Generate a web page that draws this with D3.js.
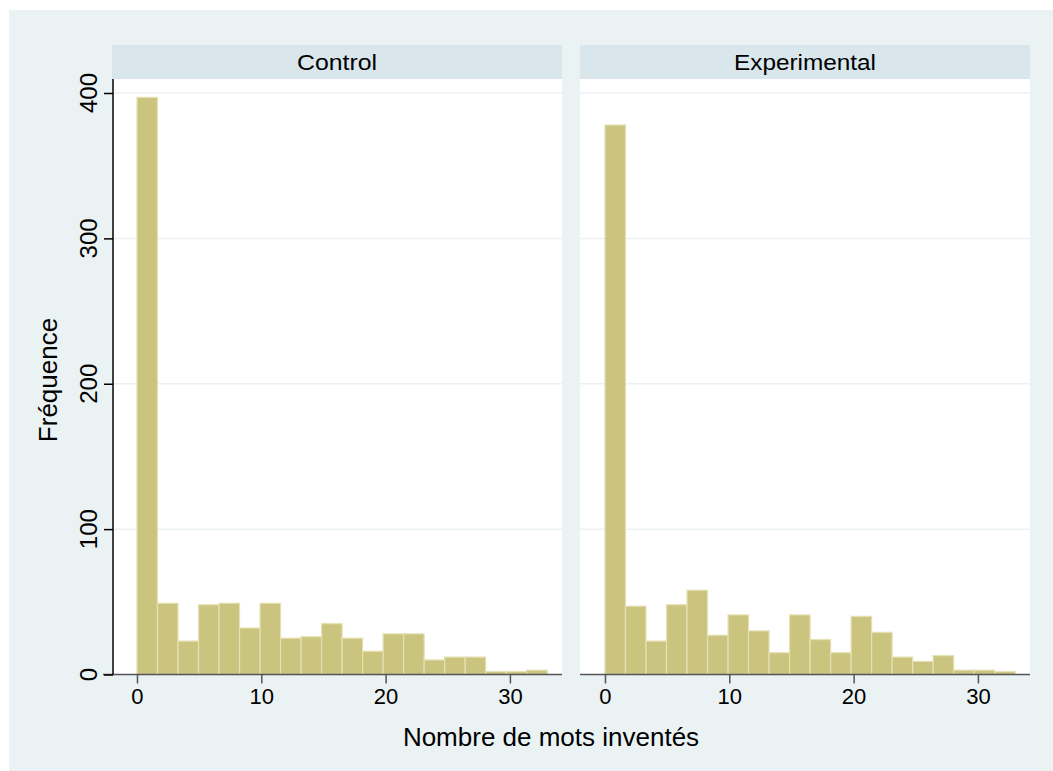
<!DOCTYPE html>
<html>
<head>
<meta charset="utf-8">
<script src="https://cdn.jsdelivr.net/npm/d3@7"></script>
<style>
  body { margin: 0; background: #fff; }
  text { font-family: "Liberation Sans", Arial, sans-serif; fill: #000; }
</style>
</head>
<body>
<svg id="chart"></svg>
<script>
// values: 20 bins of width 1.65, from 0 to 33
const groups = ['Control', 'Experimental'];
const binStarts = [0, 1.65, 3.3, 4.95, 6.6, 8.25, 9.9, 11.55, 13.2, 14.85,
                   16.5, 18.15, 19.8, 21.45, 23.1, 24.75, 26.4, 28.05, 29.7, 31.35];
const binWidth = 1.65;
const controlCounts = [397, 49, 23, 48, 49, 32, 49, 25, 26, 35, 25, 16, 28, 28, 10, 12, 12, 2, 2, 3];
const experimentalCounts = [378, 47, 23, 48, 58, 27, 41, 30, 15, 41, 24, 15, 40, 29, 12, 9, 13, 3, 3, 2];
const xTicks = [0, 10, 20, 30];
const yTicks = [0, 100, 200, 300, 400];
const headerWidths = [80, 142];

let chart = {
    width: 1053,
    height: 771,
    panelLeft: [112, 580],
    panelWidth: 450,
    headerTop: 45,
    plotTop: 79,
    plotBottom: 674.5,
    bg: '#eaf2f3',
    yScale: null,

    drawBackground: (svg) => {
        svg.append('rect')
            .attr('x', 9).attr('y', 10)
            .attr('width', chart.width - 9).attr('height', chart.height - 10)
            .attr('fill', chart.bg);
    },

    drawPanel: (svg, p) => {
        let left = chart.panelLeft[p];
        let counts = p === 0 ? controlCounts : experimentalCounts;
        let g = svg.append('g');

        // header strip
        g.append('rect')
            .attr('x', left).attr('y', chart.headerTop)
            .attr('width', chart.panelWidth).attr('height', chart.plotTop - chart.headerTop)
            .attr('fill', '#d9e6eb');
        g.append('text')
            .attr('x', left + chart.panelWidth / 2)
            .attr('y', 69.5)
            .attr('text-anchor', 'middle')
            .attr('font-size', 22)
            .attr('textLength', headerWidths[p])
            .attr('lengthAdjust', 'spacingAndGlyphs')
            .text(groups[p]);

        // plot area
        g.append('rect')
            .attr('x', left).attr('y', chart.plotTop)
            .attr('width', chart.panelWidth).attr('height', chart.plotBottom - chart.plotTop)
            .attr('fill', '#fff');

        let xScale = d3.scaleLinear()
            .domain([-2.01, 34.19])
            .range([left, left + chart.panelWidth]);

        // grid lines
        g.selectAll('.grid')
            .data(yTicks.filter(d => d > 0))
            .join('line')
            .attr('x1', left).attr('x2', left + chart.panelWidth)
            .attr('y1', d => chart.yScale(d)).attr('y2', d => chart.yScale(d))
            .attr('stroke', chart.bg)
            .attr('stroke-width', 1.5);

        // bars
        g.selectAll('.bar')
            .data(counts)
            .join('rect')
            .attr('x', (d, i) => xScale(binStarts[i]))
            .attr('y', d => chart.yScale(d))
            .attr('width', (d, i) => xScale(binStarts[i] + binWidth) - xScale(binStarts[i]))
            .attr('height', d => chart.yScale(0) - chart.yScale(d))
            .attr('fill', '#cac47f')
            .attr('stroke', '#e6e1b4')
            .attr('stroke-width', 1.2);

        // x axis
        let axis_x = d3.axisBottom(xScale)
            .tickValues(xTicks)
            .tickSize(9)
            .tickPadding(5)
            .tickFormat(d => d);
        let ax = g.append('g')
            .attr('transform', `translate(0, ${chart.plotBottom})`)
            .call(axis_x);
        ax.select('.domain').remove();
        ax.append('line')
            .attr('x1', p === 0 ? left - 9 : left).attr('x2', left + chart.panelWidth)
            .attr('stroke', '#555').attr('stroke-width', 1.5);
        ax.selectAll('.tick line').attr('stroke', '#555').attr('stroke-width', 1.5);
        ax.selectAll('.tick text')
            .attr('font-family', '"Liberation Sans", Arial, sans-serif')
            .attr('font-size', 22)
            .attr('fill', '#000');
    },

    drawYAxis: (svg) => {
        let left = chart.panelLeft[0] + 1;
        let axis_y = d3.axisLeft(chart.yScale)
            .tickValues(yTicks)
            .tickSize(9)
            .tickFormat('');
        let ay = svg.append('g')
            .attr('transform', `translate(${left}, 0)`)
            .call(axis_y);
        ay.select('.domain').remove();
        ay.append('line')
            .attr('y1', chart.plotTop).attr('y2', chart.plotBottom)
            .attr('stroke', '#000').attr('stroke-width', 1.5);
        ay.selectAll('.tick line').attr('stroke', '#000').attr('stroke-width', 1.5);

        svg.selectAll('.ylab')
            .data(yTicks)
            .join('text')
            .attr('transform', d => `translate(97, ${chart.yScale(d)}) rotate(-90)`)
            .attr('text-anchor', 'middle')
            .attr('font-size', 24)
            .text(d => d);

        svg.append('text')
            .attr('transform', 'translate(56.5, 380) rotate(-90)')
            .attr('text-anchor', 'middle')
            .attr('font-size', 26)
            .text('Fréquence');
    },

    drawMain: () => {
        let svg = d3.select('#chart')
            .attr('width', chart.width)
            .attr('height', chart.height);
        chart.yScale = d3.scaleLinear()
            .domain([0, 400])
            .range([chart.plotBottom, 93]);

        chart.drawBackground(svg);
        chart.drawPanel(svg, 0);
        chart.drawPanel(svg, 1);
        chart.drawYAxis(svg);

        svg.append('text')
            .attr('x', 551).attr('y', 745.5)
            .attr('text-anchor', 'middle')
            .attr('font-size', 26)
            .text('Nombre de mots inventés');
    }
};

chart.drawMain();
</script>
</body>
</html>
